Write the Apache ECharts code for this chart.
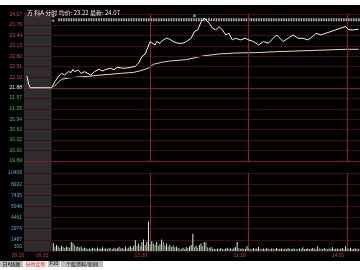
<!DOCTYPE html>
<html><head><meta charset="utf-8">
<script src="https://cdn.jsdelivr.net/npm/echarts@6/dist/echarts.min.js"></script>
<style>html,body{margin:0;padding:0;background:#000;}#c{width:360px;height:270px;}</style>
</head><body><div id="c"></div>
<script>
const stockTitle = '万 科A 分时 均价: 23.22 最新: 24.07';
const prevClose = 21.88;
const priceTicks = [24.07, 23.76, 23.44, 23.13, 22.82, 22.51, 22.19, 21.88, 21.57, 21.25, 20.94, 20.63, 20.32, 20.00, 19.69];
const volumeTicks = [0, 1487, 2974, 4461, 5948, 7435, 8922, 10409];
const volumeZeroLabel = '300';
const timeTickTimes = ['09:15', '09:30', '10:30', '11:30', '14:00'];
const timeTickLabels = ['09:15', '09:33', '10:30', '11:30', '14:00'];
const axisStartTime = '09:14';
const axisEndTime = '14:08';

const priceTimes = ['09:15','09:16','09:17','09:25','09:30','09:31','09:32','09:34','09:36','09:38','09:40','09:42','09:43','09:44','09:46','09:48','09:50','09:52','09:54','09:56','09:59','10:01','10:03','10:06','10:08','10:10','10:14','10:18','10:21','10:23','10:25','10:27','10:28','10:30','10:31','10:33','10:34','10:36','10:38','10:40','10:42','10:44','10:47','10:50','10:52','10:55','10:57','10:59','11:01','11:03','11:04','11:06','11:08','11:10','11:12','11:14','11:16','11:18','11:20','11:22','11:25','11:28','13:00','13:03','13:06','13:09','13:12','13:15','13:17','13:19','13:21','13:24','13:27','13:30','13:33','13:36','13:39','13:41','13:44','13:47','13:50','13:53','13:56','13:59','14:01','14:04','14:07'];
const priceValues = [22.23,21.99,21.88,21.88,21.88,21.89,22.06,22.21,22.31,22.26,22.36,22.34,22.43,22.36,22.41,22.31,22.36,22.31,22.26,22.36,22.43,22.38,22.43,22.46,22.42,22.49,22.46,22.49,22.52,22.62,22.81,22.89,23.01,23.26,23.22,23.16,23.26,23.21,23.31,23.36,23.33,23.26,23.21,23.21,23.26,23.36,23.56,23.61,23.85,23.96,23.99,23.81,23.66,23.61,23.71,23.61,23.46,23.51,23.31,23.36,23.31,23.36,23.31,23.26,23.16,23.26,23.21,23.36,23.46,23.36,23.26,23.36,23.46,23.36,23.36,23.31,23.41,23.51,23.46,23.51,23.56,23.61,23.66,23.71,23.61,23.61,23.63];

const avgTimes = ['09:31','09:33','09:36','09:40','09:46','09:52','10:00','10:12','10:20','10:25','10:29','10:32','10:37','10:42','10:52','11:02','11:12','11:22','13:04','13:18','13:42','13:59','14:07'];
const avgValues = [21.89,21.99,22.13,22.17,22.20,22.22,22.26,22.31,22.34,22.40,22.47,22.58,22.64,22.68,22.72,22.83,22.89,22.92,22.93,22.96,23.00,23.03,23.03];

// one bar per minute starting 09:31
const volumeStartTime = '09:31';
const volumeValues = [
1100,
550,800,650,450,700,550,400,600,500,450,
1200,1100,800,550,650,480,560,350,430,
400,280,350,300,450,380,300,420,260,350,500,300,380,270,420,330,280,450,300,380,520,320,400,290,560,350,480,620,400,700,
1450,700,1000,650,1200,1550,800,1250,3900,900,1300,1000,850,1200,700,900,1550,1200,750,1000,600,800,550,750,500,600,400,
350,300,450,280,550,400,650,800,
2300,500,700,450,800,1000,650,1200,1150,500,400,550,300,
300,250,350,280,400,300,250,350,420,300,380,260,450,500,
1200,400,300,350,280,300,650,350,
300,250,400,280,350,550,300,260,320,280,450,300,250,350,300,280,400,260,300,350,250,300,280,450,300,260,350,300,280,250,320,300,500,280,300,350,260,300,400,330,280,600,350,300,280,400,300,250,350,300,500,280,300,350,260,300,400,280,650,350,300,450,280,300,350,280,300
];

// event markers
const markerBandTimes = ['09:34', '14:08'];
const markerBandLevel = 23.91;
const plusMarkTimes = ['09:31', '09:31'];
const plusMarkValues = [24.02, 23.88];
const infoMarkTimes = ['10:57'];
const infoMarkValues = [24.03];

function toMinute(t) {
  const [h, m] = t.split(':').map(Number);
  const tot = h * 60 + m;
  return tot <= 690 ? tot - 570 : tot - 780 + 120;
}

const xMin = toMinute(axisStartTime) - 0.8;
const xMax = toMinute(axisEndTime) - 0.2;
const volStart = toMinute(volumeStartTime);
const timeTickMinutes = timeTickTimes.map(toMinute);

const DIM = '#460b15', BRIGHT = '#8e1628', VLINE = '#84203a';
const FONT = 'Liberation Sans';

const chart = echarts.init(document.getElementById('c'), null, {renderer: 'canvas'});

const option = {
  backgroundColor: '#000',
  animation: false,
  title: {
    text: stockTitle, left: 22, top: 5,
    textStyle: {fontSize: 6, color: '#f0f0f0', fontWeight: 'normal', fontFamily: 'Noto Sans CJK SC'}
  },
  grid: [
    {left: 24, right: 0, top: 14.5, height: 146.5},
    {left: 24, right: 0, top: 173, height: 78}
  ],
  xAxis: [
    {type: 'value', gridIndex: 0, min: xMin, max: xMax, show: false, splitLine: {show: false}},
    {type: 'value', gridIndex: 1, min: xMin, max: xMax,
     axisLine: {show: false}, axisTick: {show: false}, splitLine: {show: false},
     axisLabel: {customValues: timeTickMinutes, fontSize: 5, fontFamily: FONT, color: '#d83838',
       align: 'right', margin: 2, padding: [0, 3, 0, 0],
       formatter: v => timeTickLabels[timeTickMinutes.indexOf(v)]}}
  ],
  yAxis: [
    {type: 'value', gridIndex: 0, min: priceTicks[priceTicks.length - 1], max: priceTicks[0],
     axisLine: {show: false}, axisTick: {show: false}, splitLine: {show: false},
     axisLabel: {customValues: priceTicks, fontSize: 5, fontFamily: FONT, margin: 2,
       formatter: v => v.toFixed(2),
       color: v => (Number(v) > prevClose + 0.001 ? '#d04a5c' : (Number(v) < prevClose - 0.001 ? '#3cc84a' : '#f0f0f0'))}},
    {type: 'value', gridIndex: 1, min: 0, max: volumeTicks[volumeTicks.length - 1],
     axisLine: {show: false}, axisTick: {show: false}, splitLine: {show: false},
     axisLabel: {customValues: volumeTicks, fontSize: 5, fontFamily: FONT, margin: 2, color: '#4eb0cc',
       formatter: v => (v === 0 ? '{z|' + volumeZeroLabel + '}' : String(v)),
       rich: {z: {fontSize: 5, fontFamily: FONT, color: '#4eb0cc', padding: [0, 0, 8, 0]}}}}
  ],
  series: [
    {
      name: 'price', type: 'line', xAxisIndex: 0, yAxisIndex: 0,
      data: priceTimes.map((t, i) => [toMinute(t), priceValues[i]]),
      symbol: 'none', z: 5,
      lineStyle: {color: '#f4f4f4', width: 1},
      markLine: {
        silent: true, symbol: 'none', label: {show: false}, animation: false,
        data: priceTicks.map(v => ({yAxis: v, lineStyle: {color: (v === prevClose || v === priceTicks[priceTicks.length - 1]) ? BRIGHT : DIM, width: 1, type: 'solid'}}))
          .concat(timeTickMinutes.slice(2).map(m => ({xAxis: m, lineStyle: {color: VLINE, width: 1, type: 'solid'}})))
      }
    },
    {
      name: 'average', type: 'line', xAxisIndex: 0, yAxisIndex: 0,
      data: avgTimes.map((t, i) => [toMinute(t), avgValues[i]]),
      symbol: 'none', z: 4,
      lineStyle: {color: '#e4dcae', width: 1}
    },
    {
      name: 'band', type: 'line', xAxisIndex: 0, yAxisIndex: 0,
      data: markerBandTimes.map(t => [toMinute(t), markerBandLevel]),
      symbol: 'none', z: 3,
      lineStyle: {color: '#b4bcb4', width: 3, type: [1.5, 1]}
    },
    {
      name: 'plus', type: 'scatter', xAxisIndex: 0, yAxisIndex: 0,
      data: plusMarkTimes.map((t, i) => [toMinute(t), plusMarkValues[i]]),
      symbol: 'diamond', symbolSize: 3, itemStyle: {color: '#c8c8c8'}, z: 6
    },
    {
      name: 'info', type: 'scatter', xAxisIndex: 0, yAxisIndex: 0,
      data: infoMarkTimes.map((t, i) => [toMinute(t), infoMarkValues[i]]),
      symbol: 'circle', symbolSize: 3, itemStyle: {color: '#5ec8c0'}, z: 6
    },
    {
      name: 'volume', type: 'bar', xAxisIndex: 1, yAxisIndex: 1,
      data: volumeValues.map((v, i) => [volStart + i, v]),
      barWidth: 1, z: 5,
      itemStyle: {color: p => (p.dataIndex === 0 || volumeValues[p.dataIndex] >= volumeValues[p.dataIndex - 1]) ? '#e2e2e2' : '#7fcf8a'},
      markLine: {
        silent: true, symbol: 'none', label: {show: false}, animation: false,
        data: volumeTicks.map(v => ({yAxis: v, lineStyle: {color: DIM, width: 1, type: 'solid'}}))
          .concat(timeTickMinutes.slice(2).map(m => ({xAxis: m, lineStyle: {color: VLINE, width: 1, type: 'solid'}})))
      }
    }
  ]
};
chart.setOption(option);

// pre-market shaded panel and frame decorations, positioned through the axes
const xa = chart.convertToPixel({xAxisIndex: 0}, xMin);
const xb = chart.convertToPixel({xAxisIndex: 0}, 0);
const ya = chart.convertToPixel({yAxisIndex: 0}, priceTicks[0]) - 2;
const yb = chart.convertToPixel({yAxisIndex: 1}, 0);
const W = chart.getWidth(), H = chart.getHeight();
chart.setOption({
  graphic: [
    {type: 'rect', silent: true, z: 0, shape: {x: xa, y: ya, width: xb - xa, height: yb - ya}, style: {fill: '#2d2d2d'}},
    {type: 'rect', silent: true, z: 100, shape: {x: 0, y: 0, width: W, height: 5}, style: {fill: '#ffffff'}},
    {type: 'rect', silent: true, z: 100, shape: {x: 0, y: 261, width: W, height: H - 261}, style: {fill: '#ffffff'}},
    {type: 'rect', silent: true, z: 101, shape: {x: 0, y: 261, width: 23, height: 6}, style: {fill: '#bdbdbd'}},
    {type: 'text', silent: true, z: 102, style: {x: 11.5, y: 264, text: '日K线图', fill: '#111', fontSize: 5, align: 'center', verticalAlign: 'middle', fontFamily: 'Noto Sans CJK SC'}},
    {type: 'rect', silent: true, z: 101, shape: {x: 24, y: 261, width: 23, height: 6}, style: {fill: '#f2e6e6'}},
    {type: 'text', silent: true, z: 102, style: {x: 35.5, y: 264, text: '分时走势', fill: '#d02020', fontSize: 5, align: 'center', verticalAlign: 'middle', fontFamily: 'Noto Sans CJK SC'}},
    {type: 'rect', silent: true, z: 101, shape: {x: 48, y: 261, width: 12, height: 6}, style: {fill: '#bdbdbd'}},
    {type: 'text', silent: true, z: 102, style: {x: 54, y: 264, text: 'F10', fill: '#111', fontSize: 5, align: 'center', verticalAlign: 'middle', fontFamily: FONT}},
    {type: 'rect', silent: true, z: 101, shape: {x: 61, y: 261, width: 42, height: 6}, style: {fill: '#bdbdbd'}},
    {type: 'text', silent: true, z: 102, style: {x: 82, y: 264, text: '个股资料/新闻', fill: '#111', fontSize: 5, align: 'center', verticalAlign: 'middle', fontFamily: 'Noto Sans CJK SC'}}
  ]
});
</script></body></html>
